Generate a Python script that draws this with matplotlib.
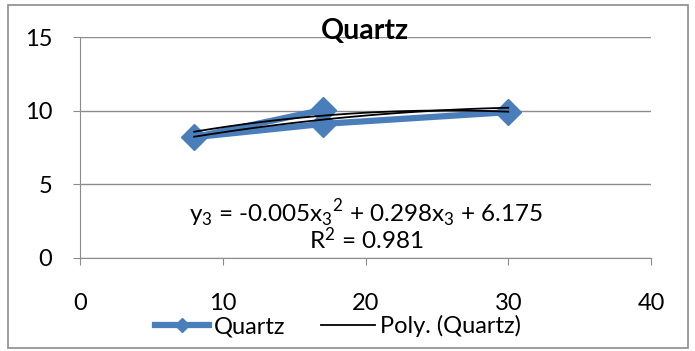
#!/usr/bin/env python
"""plot.py"""
import matplotlib.pyplot as plt
import numpy as np
from matplotlib.patches import Rectangle

# path of the Quartz series as drawn
quartz_x = [17, 8, 17, 30]
quartz_y = [10.05, 8.2, 9.1, 9.9]

# two polynomial trend curves (a, b, c)
trend_coefs = [[-0.00456, 0.2351, 6.981],
               [-0.00303, 0.2046, 6.787]]
trend_range = [8, 30]

x_ticks = [0, 10, 20, 30, 40]
y_ticks = [0, 5, 10, 15]
eq_line1 = '$\\mathregular{y_3}$ = -0.005$\\mathregular{x_3}^{\\mathregular{2}}$ + 0.298$\\mathregular{x_3}$ + 6.175'
eq_line2 = '$\\mathregular{R^2}$ = 0.981'

plt.rcParams['font.family'] = ['Lato', 'DejaVu Sans']
plt.rcParams['mathtext.fontset'] = 'custom'
plt.rcParams['mathtext.rm'] = 'Lato'
blue = '#4a7ebb'
grey = '#8c8c8c'

fig = plt.figure(figsize=(6.95, 3.51), dpi=100)
ax = fig.add_axes([80 / 695, 1 - 258 / 351, 571 / 695, 221 / 351])

ax.plot(quartz_x, quartz_y, color=blue, lw=4.5, marker='D', ms=13,
        solid_joinstyle='round', label='Quartz', zorder=3)
xs = np.linspace(trend_range[0], trend_range[1], 100)
for i, c in enumerate(trend_coefs):
    ax.plot(xs, np.polyval(c, xs), color='black', lw=1.3, zorder=4,
            label='Poly. (Quartz)' if i == 0 else None)

ax.set_xlim(0, 40)
ax.set_ylim(0, 15)
ax.set_xticks(x_ticks)
ax.set_yticks(y_ticks)
ax.yaxis.grid(True, color=grey, lw=1)
ax.set_axisbelow(True)
for s in ['top', 'right']:
    ax.spines[s].set_visible(False)
for s in ['left', 'bottom']:
    ax.spines[s].set_color(grey)
ax.tick_params(axis='both', colors=grey, labelcolor='black', labelsize=17,
               length=5, direction='out')
ax.tick_params(axis='x', pad=20)
ax.tick_params(axis='y', pad=15)

ax.text(365 / 695, 1 - 31 / 351, 'Quartz', transform=fig.transFigure,
        ha='center', va='center', fontsize=20.5, fontweight='bold')
ax.text(366 / 695, 1 - 213 / 351, eq_line1, transform=fig.transFigure,
        ha='center', va='center', fontsize=17.5)
ax.text(366 / 695, 1 - 240 / 351, eq_line2, transform=fig.transFigure,
        ha='center', va='center', fontsize=17.5)

ax.legend(loc='center left', bbox_to_anchor=(155 / 695, 1 - 326 / 351),
          bbox_transform=fig.transFigure, ncol=2, frameon=False,
          fontsize=17, handlelength=2.3, handletextpad=0.2,
          columnspacing=1.5, borderpad=0, borderaxespad=0, markerscale=0.55)

fig.patches.append(Rectangle((8 / 695, 3 / 351), 680 / 695, 343 / 351,
                             transform=fig.transFigure, fill=False,
                             edgecolor=grey, lw=1.2))

fig.savefig('out.png')
plt.close()
